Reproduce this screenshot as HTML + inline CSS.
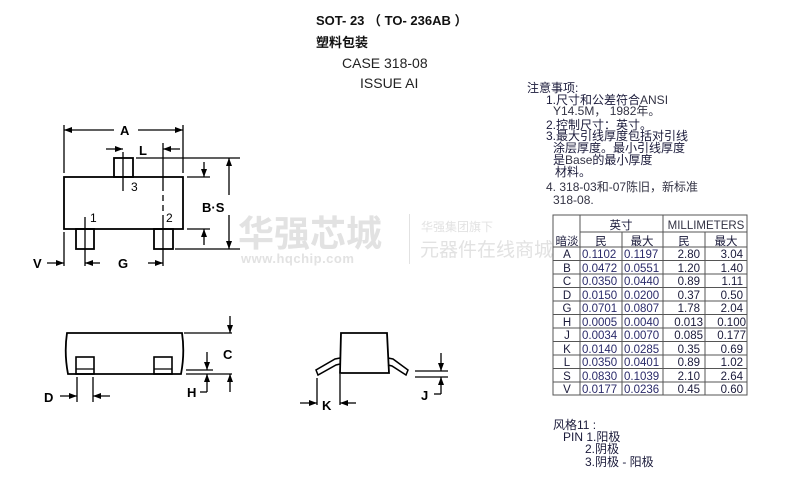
<!DOCTYPE html>
<html><head><meta charset="utf-8"><style>
html,body{margin:0;padding:0;background:#fff;}
svg{display:block;}
text{font-family:"Liberation Sans","Noto Sans CJK SC",sans-serif;}
</style></head><body>
<svg width="797" height="478" viewBox="0 0 797 478" xmlns="http://www.w3.org/2000/svg">
<defs>
<marker id="ar" markerWidth="8" markerHeight="6" refX="8" refY="3" orient="auto" markerUnits="userSpaceOnUse">
<path d="M0,0 L8,3 L0,6 Z" fill="#000"/></marker>
</defs>
<!-- watermark -->
<g fill="#e2e2e2">
<text x="238" y="246" font-size="36" font-weight="bold" font-family="Noto Sans CJK SC,sans-serif">华强芯城</text>
<text x="241" y="263" font-size="13" font-weight="bold" font-family="Liberation Serif,serif" letter-spacing="0.5">www.hqchip.com</text>
<rect x="409" y="214" width="1" height="50"/>
<text x="421" y="231" font-size="12" font-family="Noto Sans CJK SC,sans-serif">华强集团旗下</text>
<text x="420" y="256" font-size="19" font-family="Noto Sans CJK SC,sans-serif">元器件在线商城</text>
</g>
<!-- title -->
<text x="316" y="25" font-size="13" font-weight="bold" fill="#111">SOT- 23 （  TO- 236AB ）</text>
<text x="316" y="47" font-size="13" font-weight="bold" fill="#111">塑料包装</text>
<text x="342" y="68" font-size="14" fill="#222">CASE 318-08</text>
<text x="360" y="88" font-size="14" fill="#222">ISSUE AI</text>

<g stroke="#000" fill="none" stroke-width="1.3">
<!-- top view -->
<rect x="64" y="177" width="119" height="52" stroke-width="1.8"/>
<rect x="114" y="158" width="19" height="19" stroke-width="1.8"/>
<rect x="76" y="229" width="18" height="20" stroke-width="1.8"/>
<rect x="154" y="229" width="19" height="20" stroke-width="1.8"/>
<line x1="64" y1="125" x2="64" y2="173"/>
<line x1="183" y1="125" x2="183" y2="173"/>
<line x1="114" y1="130" x2="64" y2="130" marker-end="url(#ar)"/>
<line x1="138" y1="130" x2="183" y2="130" marker-end="url(#ar)"/>
<line x1="106" y1="149" x2="123" y2="149" marker-end="url(#ar)"/>
<line x1="180" y1="149" x2="163" y2="149" marker-end="url(#ar)"/>
<line x1="123" y1="152" x2="123" y2="191"/>
<line x1="163" y1="143" x2="163" y2="185"/>
<line x1="163" y1="185" x2="163" y2="215" stroke-dasharray="6,4"/>
<line x1="163" y1="215" x2="163" y2="266"/>
<line x1="85" y1="217" x2="85" y2="266"/>
<line x1="64" y1="232" x2="64" y2="266"/>
<line x1="136" y1="158" x2="240" y2="158"/>
<line x1="187" y1="177" x2="210" y2="177"/>
<line x1="187" y1="229" x2="210" y2="229"/>
<line x1="175" y1="249" x2="240" y2="249"/>
<line x1="204" y1="162" x2="204" y2="177" marker-end="url(#ar)"/>
<line x1="204" y1="245" x2="204" y2="229" marker-end="url(#ar)"/>
<line x1="229" y1="195" x2="229" y2="158" marker-end="url(#ar)"/>
<line x1="229" y1="215" x2="229" y2="249" marker-end="url(#ar)"/>
<line x1="47" y1="263" x2="64" y2="263" marker-end="url(#ar)"/>
<line x1="100" y1="263" x2="85" y2="263" marker-end="url(#ar)"/>
<line x1="148" y1="263" x2="163" y2="263" marker-end="url(#ar)"/>
<!-- side view -->
<path d="M67,333 L182,333 Q185,353 181,374 L68,374 Q64,353 67,333 Z" stroke-width="1.8"/>
<rect x="76" y="357" width="18" height="17" stroke-width="1.6"/>
<line x1="76" y1="369" x2="94" y2="369"/>
<rect x="154" y="357" width="18" height="17" stroke-width="1.6"/>
<line x1="154" y1="369" x2="172" y2="369"/>
<line x1="184" y1="333" x2="232" y2="333"/>
<line x1="230" y1="316" x2="230" y2="333" marker-end="url(#ar)"/>
<line x1="186" y1="370" x2="213" y2="370"/>
<line x1="186" y1="374" x2="232" y2="374"/>
<line x1="207" y1="352" x2="207" y2="370" marker-end="url(#ar)"/>
<line x1="207" y1="392" x2="207" y2="374" marker-end="url(#ar)"/>
<line x1="200" y1="392" x2="207" y2="392"/>
<line x1="230" y1="392" x2="230" y2="374" marker-end="url(#ar)"/>
<line x1="77" y1="377" x2="77" y2="402"/>
<line x1="93" y1="377" x2="93" y2="402"/>
<line x1="60" y1="396" x2="77" y2="396" marker-end="url(#ar)"/>
<line x1="110" y1="396" x2="93" y2="396" marker-end="url(#ar)"/>
<!-- end view -->
<path d="M341,333 L387,333 L389,373 L340,373 Z" stroke-width="1.8"/>
<path d="M340,358 L335,359 L316,370 L318,375 L336,365 L340,364" stroke-width="1.5"/>
<path d="M388,358 L393,359 L408,370 L406,375 L392,366 L388,365" stroke-width="1.5"/>
<line x1="317" y1="378" x2="317" y2="405"/>
<line x1="340" y1="374" x2="340" y2="405"/>
<line x1="300" y1="403" x2="317" y2="403" marker-end="url(#ar)"/>
<line x1="356" y1="403" x2="340" y2="403" marker-end="url(#ar)"/>
<line x1="415" y1="371" x2="448" y2="371"/>
<line x1="415" y1="377" x2="448" y2="377"/>
<line x1="441" y1="353" x2="441" y2="371" marker-end="url(#ar)"/>
<line x1="441" y1="394" x2="441" y2="377" marker-end="url(#ar)"/>
<line x1="434" y1="394" x2="441" y2="394"/>
</g>
<g font-weight="bold" font-size="13" fill="#000">
<text x="120" y="135">A</text>
<text x="139" y="155">L</text>
<text x="202" y="212">B·S</text>
<text x="33" y="268">V</text>
<text x="118" y="268">G</text>
<text x="223" y="359">C</text>
<text x="187" y="397">H</text>
<text x="44" y="402">D</text>
<text x="322" y="410">K</text>
<text x="421" y="400">J</text>
</g>
<g font-size="12" fill="#000">
<text x="131" y="191">3</text>
<text x="90" y="222">1</text>
<text x="166" y="222">2</text>
</g>
<!-- notes -->
<g font-size="12" fill="#1a1a3a">
<text x="527" y="92">注意事项:</text>
<text x="546" y="104">1.尺寸和公差符合<tspan fill="#334">ANSI</tspan></text>
<text x="553" y="115" fill="#334">Y14.5M，  1982年。</text>
<text x="546" y="129">2.控制尺寸：英寸。</text>
<text x="546" y="140">3.最大引线厚度包括对引线</text>
<text x="553" y="152">涂层厚度。最小引线厚度</text>
<text x="553" y="164">是<tspan fill="#334">Base</tspan>的最小厚度</text>
<text x="555" y="176">材料。</text>
<text x="546" y="191" fill="#334">4. 318-03和-07陈旧，新标准</text>
<text x="553" y="204" fill="#334">318-08.</text>
</g>
<!-- table -->
<g stroke="#555" stroke-width="1" fill="none">
<rect x="553" y="215" width="194" height="180"/>
<line x1="580" y1="215" x2="580" y2="395"/>
<line x1="663" y1="215" x2="663" y2="395"/>
<line x1="580" y1="232" x2="747" y2="232"/>
<line x1="622" y1="232" x2="622" y2="395"/>
<line x1="705" y1="232" x2="705" y2="395"/>
<line x1="553" y1="247" x2="747" y2="247"/>
<line x1="553" y1="260.5" x2="747" y2="260.5"/>
<line x1="553" y1="274" x2="747" y2="274"/>
<line x1="553" y1="287.5" x2="747" y2="287.5"/>
<line x1="553" y1="301" x2="747" y2="301"/>
<line x1="553" y1="314.5" x2="747" y2="314.5"/>
<line x1="553" y1="328" x2="747" y2="328"/>
<line x1="553" y1="341.5" x2="747" y2="341.5"/>
<line x1="553" y1="355" x2="747" y2="355"/>
<line x1="553" y1="368.5" x2="747" y2="368.5"/>
<line x1="553" y1="382" x2="747" y2="382"/>
</g>
<g font-size="11.5" fill="#1a1a3a" text-anchor="middle">
<text x="621" y="229">英寸</text>
<text x="706" y="229" fill="#334">MILLIMETERS</text>
<text x="567" y="245">暗淡</text>
<text x="601" y="245">民</text>
<text x="642" y="245">最大</text>
<text x="684" y="245">民</text>
<text x="726" y="245">最大</text>
</g>
<g font-size="11.5" fill="#1a1a3a">
<g text-anchor="middle">
<text x="567" y="258">A</text><text x="567" y="272">B</text><text x="567" y="285">C</text><text x="567" y="299">D</text><text x="567" y="312">G</text><text x="567" y="326">H</text><text x="567" y="339">J</text><text x="567" y="353">K</text><text x="567" y="366">L</text><text x="567" y="380">S</text><text x="567" y="393">V</text>
</g>
<g fill="#2a2a6a">
<text x="582" y="258">0.1102</text><text x="624" y="258">0.1197</text>
<text x="582" y="272">0.0472</text><text x="624" y="272">0.0551</text>
<text x="582" y="285">0.0350</text><text x="624" y="285">0.0440</text>
<text x="582" y="299">0.0150</text><text x="624" y="299">0.0200</text>
<text x="582" y="312">0.0701</text><text x="624" y="312">0.0807</text>
<text x="582" y="326">0.0005</text><text x="624" y="326">0.0040</text>
<text x="582" y="339">0.0034</text><text x="624" y="339">0.0070</text>
<text x="582" y="353">0.0140</text><text x="624" y="353">0.0285</text>
<text x="582" y="366">0.0350</text><text x="624" y="366">0.0401</text>
<text x="582" y="380">0.0830</text><text x="624" y="380">0.1039</text>
<text x="582" y="393">0.0177</text><text x="624" y="393">0.0236</text>
</g>
<g text-anchor="end">
<text x="700" y="258">2.80</text><text x="743" y="258">3.04</text>
<text x="700" y="272">1.20</text><text x="743" y="272">1.40</text>
<text x="700" y="285">0.89</text><text x="743" y="285">1.11</text>
<text x="700" y="299">0.37</text><text x="743" y="299">0.50</text>
<text x="700" y="312">1.78</text><text x="743" y="312">2.04</text>
<text x="703" y="326">0.013</text><text x="746" y="326">0.100</text>
<text x="703" y="339">0.085</text><text x="746" y="339">0.177</text>
<text x="700" y="353">0.35</text><text x="743" y="353">0.69</text>
<text x="700" y="366">0.89</text><text x="743" y="366">1.02</text>
<text x="700" y="380">2.10</text><text x="743" y="380">2.64</text>
<text x="700" y="393">0.45</text><text x="743" y="393">0.60</text>
</g>
</g>
<g font-size="12" fill="#1a1a3a">
<text x="553" y="429">风格11  :</text>
<text x="563" y="441">PIN 1.阳极</text>
<text x="585" y="453">2.阴极</text>
<text x="585" y="466">3.阴极 - 阳极</text>
</g>
</svg>
</body></html>
